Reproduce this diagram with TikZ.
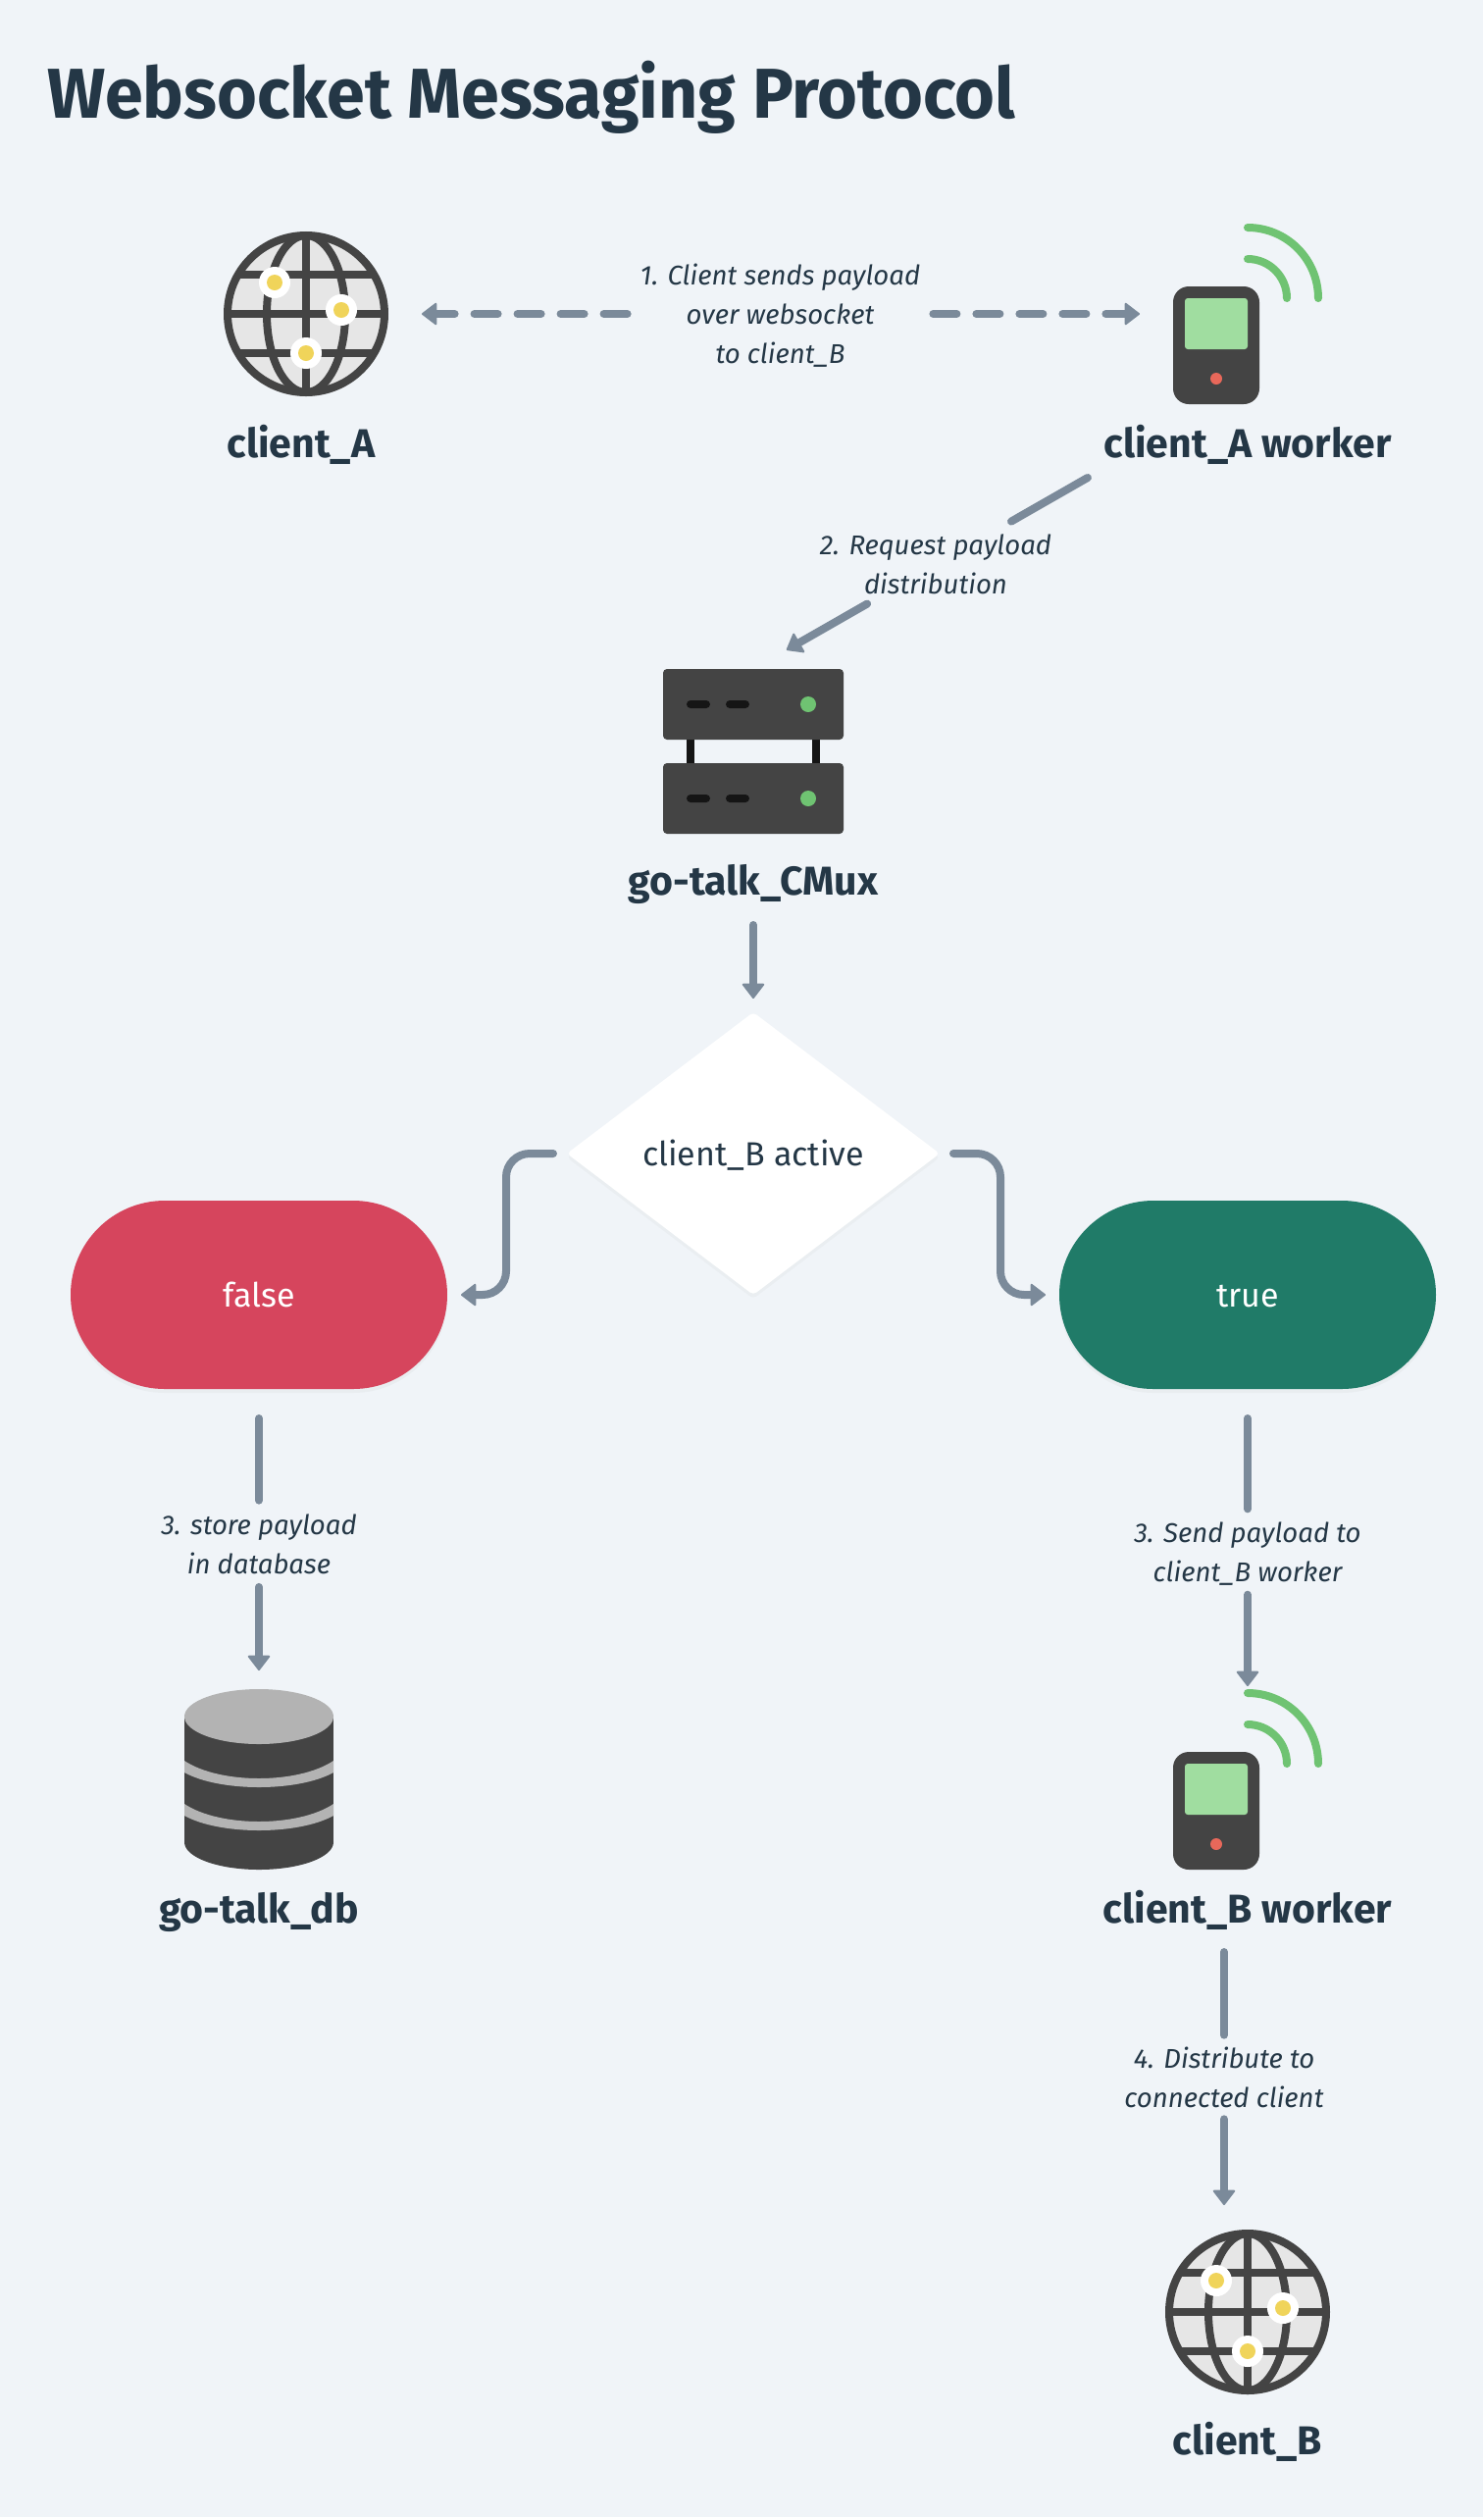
\documentclass[tikz,border=0pt]{standalone}
\usepackage{fontspec}
\setmainfont{Fira Sans}
\usetikzlibrary{arrows.meta,shapes.geometric,shadows}

\definecolor{bgcol}{HTML}{F0F4F8}
\definecolor{textcol}{HTML}{243746}
\definecolor{linecol}{HTML}{7B8A9A}
\definecolor{iconcol}{HTML}{444444}
\definecolor{slotcol}{HTML}{151515}
\definecolor{greycol}{HTML}{B3B3B3}
\definecolor{globecol}{HTML}{E6E6E6}
\definecolor{wificol}{HTML}{6FC372}
\definecolor{screencol}{HTML}{A0DDA0}
\definecolor{dotcol}{HTML}{E8685A}
\definecolor{pincol}{HTML}{F0D45A}
\definecolor{falsecol}{HTML}{D6455D}
\definecolor{truecol}{HTML}{207B68}

\tikzset{
	iconbox/.style={inner sep=0pt,outer sep=0pt},
	caption/.style={anchor=base,font=\fontsize{20.5}{24}\selectfont\bfseries,text=textcol},
	steplabel/.style={align=center,inner xsep=0pt,inner ysep=0pt,text=textcol,font=\fontsize{13.8}{20}\selectfont\itshape},
	plainline/.style={line width=4pt,line cap=round,color=linecol},
	arrowline/.style={plainline,-{Triangle[length=8pt,width=12pt,line width=1pt,round]}},
	dashline/.style={arrowline,dash pattern=on 12pt off 10pt},
	pill/.style={inner sep=0pt,outer sep=0pt,minimum width=192pt,minimum height=96pt,rounded corners=48pt,text=white,font=\fontsize{17}{20}\selectfont,drop shadow={shadow xshift=0pt,shadow yshift=-2pt,opacity=.06}},
	globe/.pic={
		\fill[globecol] (0,0) circle[radius=80];
		\draw[iconcol,line width=4pt] (0,0) circle[radius=80];
		\draw[iconcol,line width=4pt] (0,0) ellipse[x radius=40,y radius=80];
		\draw[iconcol,line width=4pt] (0,-80) -- (0,80);
		\draw[iconcol,line width=4pt] (-80,0) -- (80,0);
		\draw[iconcol,line width=4pt] (-69,-40) -- (69,-40);
		\draw[iconcol,line width=4pt] (-69,40) -- (69,40);
		\foreach \px/\py in {-32/-32,36/-4,0/40}{
			\fill[white] (\px,\py) circle[radius=16];
			\fill[pincol] (\px,\py) circle[radius=8];
		}
	},
	worker/.pic={
		\fill[iconcol,rounded corners=8pt] (-44,-60) rectangle (44,60);
		\fill[screencol,rounded corners=1.5pt] (-32,-48) rectangle (32,4);
		\fill[dotcol] (0,34) circle[radius=6];
		\draw[wificol,line width=4pt,line cap=round] (32,-120) arc[radius=72,start angle=-90,end angle=0];
		\draw[wificol,line width=4pt,line cap=round] (32,-88) arc[radius=40,start angle=-90,end angle=0];
	},
	rack/.pic={
		\fill[slotcol] (-68,-12) rectangle (-60,12);
		\fill[slotcol] (60,-12) rectangle (68,12);
		\foreach \dy in {-48,48}{
			\fill[iconcol,rounded corners=2pt] (-92,\dy-36) rectangle (92,\dy+36);
			\fill[slotcol,rounded corners=2pt] (-68,\dy-4) rectangle (-44,\dy+4);
			\fill[slotcol,rounded corners=2pt] (-28,\dy-4) rectangle (-4,\dy+4);
			\fill[wificol] (56,\dy) circle[radius=8];
		}
	},
	cylinder db/.pic={
		\fill[iconcol] (-76,-64) rectangle (76,64);
		\fill[iconcol] (0,64) ellipse[x radius=76,y radius=28];
		\fill[greycol] (0,-64) ellipse[x radius=76,y radius=28];
		\foreach \dy in {0,44}{
			\fill[greycol] (-76,\dy-19) .. controls (-40,\dy+5) and (40,\dy+5) .. (76,\dy-19)
				-- (76,\dy-7) .. controls (40,\dy+13) and (-40,\dy+13) .. (-76,\dy-7) -- cycle;
		}
	},
}

\begin{document}
\begin{tikzpicture}[x=.5pt,y=-.5pt]

	\useasboundingbox (0,0) rectangle (1512,2566);
	\fill[bgcol] (0,0) rectangle (1512,2566);

	\node[anchor=base west,inner sep=0pt,text=textcol,font=\fontsize{36}{40}\selectfont\bfseries\addfontfeature{FakeStretch=.972}] (title) at (48,120) {Websocket Messaging Protocol};

	% icons
	\node[iconbox,minimum width=84pt,minimum height=84pt] (clientA) at (312,320) {};
	\pic at (clientA) {globe};
	\node[iconbox,minimum width=44pt,minimum height=60pt] (workerA) at (1240,352) {};
	\pic at (workerA) {worker};
	\node[iconbox,minimum width=92pt,minimum height=84pt] (server) at (768,766) {};
	\pic at (server) {rack};
	\node[iconbox,minimum width=76pt,minimum height=92pt] (database) at (264,1814) {};
	\pic at (database) {cylinder db};
	\node[iconbox,minimum width=44pt,minimum height=60pt] (workerB) at (1240,1846) {};
	\pic at (workerB) {worker};
	\node[iconbox,minimum width=84pt,minimum height=84pt] (clientB) at (1272,2357) {};
	\pic at (clientB) {globe};

	% captions
	\node[caption] (capclientA) at (307,466) {client\_A};
	\node[caption] (capworkerA) at (1272,466) {client\_A worker};
	\node[caption] (capserver) at (768,912) {go-talk\_CMux};
	\node[caption] (capdatabase) at (264,1960) {go-talk\_db};
	\node[caption] (capworkerB) at (1272,1960) {client\_B worker};
	\node[caption] (capclientB) at (1272,2502) {client\_B};

	% decision and results
	\node[diamond,aspect=1.32,inner sep=0pt,outer sep=0pt,minimum width=190pt,minimum height=144pt,rounded corners=2pt,fill=white,drop shadow={shadow xshift=0pt,shadow yshift=-2pt,opacity=.05}] (decision) at (768,1176) {};
	\node[text=textcol,font=\fontsize{17}{20}\selectfont] (decisiontext) at (768,1178) {client\_B active};
	\node[pill,fill=falsecol] (falsebox) at (264,1320) {\raisebox{-6pt}[0pt][0pt]{false}};
	\node[pill,fill=truecol] (truebox) at (1272,1320) {\raisebox{-6pt}[0pt][0pt]{true}};

	% step labels
	\node[steplabel,minimum width=155.5pt] (lblsend) at (795.5,321.5) {1. Client sends payload\\over websocket\\to client\_B};
	\node[steplabel] (lblrequest) at (954,575.5) {2. Request payload\\distribution};
	\node[steplabel] (lblstore) at (264,1574.5) {3. store payload\\in database};
	\node[steplabel] (lblforward) at (1272,1584.5) {3. Send payload to\\client\_B worker};
	\node[steplabel] (lbldistribute) at (1248,2117.5) {4. Distribute to\\connected client};

	% connectors
	\draw[dashline,shorten >=17pt] (lblsend.west |- clientA) -- (clientA);
	\draw[dashline,shorten >=17pt] (lblsend.east |- clientA) -- (clientA -| workerA.west);
	\draw[plainline,shorten <=75.5pt,shorten >=151.5pt] (workerA.south) -- (server.north);
	\draw[arrowline,shorten <=205pt,shorten >=19.5pt] (workerA.south) -- (server.north);
	\draw[arrowline,shorten <=46.5pt,shorten >=7pt] (server.south) -- (decision.north);
	\draw[arrowline,rounded corners=12pt,shorten <=7pt,shorten >=7pt] (decision.west) -- ++(-62,0) |- (falsebox.east);
	\draw[arrowline,rounded corners=12pt,shorten <=7pt,shorten >=7pt] (decision.east) -- ++(62,0) |- (truebox.west);
	\draw[plainline,shorten <=15pt,shorten >=7pt] (falsebox.south) -- (lblstore);
	\draw[arrowline,shorten <=6.25pt,shorten >=9.5pt] (lblstore) -- (database.north);
	\draw[plainline,shorten <=15pt,shorten >=6.75pt] (truebox.south) -- (lblforward);
	\draw[arrowline,shorten <=4.25pt,shorten >=33.5pt] (lblforward) -- (lblforward |- workerB.north);
	\draw[plainline,shorten <=42pt,shorten >=5.75pt] (lbldistribute |- workerB.south) -- (lbldistribute);
	\draw[arrowline,shorten <=5.75pt,shorten >=12.5pt] (lbldistribute) -- (lbldistribute |- clientB.north);

\end{tikzpicture}
\end{document}
